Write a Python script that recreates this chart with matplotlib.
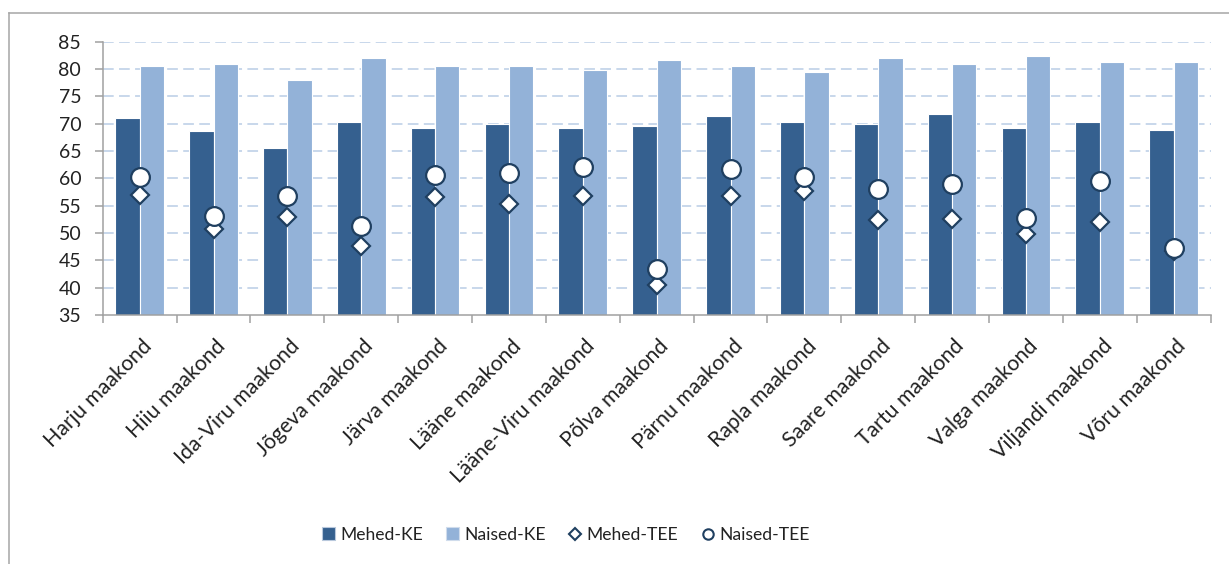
import matplotlib
matplotlib.use("Agg")
import matplotlib.pyplot as plt
import matplotlib.transforms as mtransforms
from matplotlib.lines import Line2D
from matplotlib.patches import Patch
import numpy as np

categories = ["Harju maakond", "Hiiu maakond", "Ida-Viru maakond", "Jõgeva maakond",
              "Järva maakond", "Lääne maakond", "Lääne-Viru maakond", "Põlva maakond",
              "Pärnu maakond", "Rapla maakond", "Saare maakond", "Tartu maakond",
              "Valga maakond", "Viljandi maakond", "Võru maakond"]
mehed_ke = [71.1, 68.6, 65.6, 70.4, 69.3, 70.0, 69.3, 69.6, 71.5, 70.4, 70.0, 71.8, 69.3, 70.4, 68.9]
naised_ke = [80.6, 81.0, 78.0, 82.1, 80.6, 80.6, 79.9, 81.7, 80.6, 79.5, 82.0, 81.0, 82.4, 81.3, 81.3]
mehed_tee = [57.0, 50.7, 53.0, 47.7, 56.5, 55.3, 56.8, 40.4, 56.7, 57.6, 52.3, 52.5, 49.9, 52.1, 46.8]
naised_tee = [60.2, 53.2, 56.7, 51.3, 60.7, 60.9, 62.0, 43.4, 61.8, 60.3, 58.0, 59.0, 52.8, 59.5, 47.3]
yticks = [35, 40, 45, 50, 55, 60, 65, 70, 75, 80, 85]

c_dark = "#35608F"
c_light = "#93B2D8"
c_mark = "#1F3F60"
c_grid = "#B9CDE5"
c_axis = "#A0A0A0"
c_text = "#222222"

plt.rcParams['font.family'] = ['Lato', 'DejaVu Sans']

fig = plt.figure(figsize=(12.29, 5.64), dpi=100)
ax = fig.add_axes([0.0836, 0.4415, 0.985 - 0.0836, 0.926 - 0.4415])

x = np.arange(len(categories))
w = 0.33
ax.bar(x - 0.165, mehed_ke, width=w, color=c_dark, edgecolor="white", linewidth=0.8, zorder=2)
ax.bar(x + 0.165, naised_ke, width=w, color=c_light, edgecolor="white", linewidth=0.8, zorder=2)
ax.plot(x, mehed_tee, linestyle="none", marker="D", markersize=9.5, markerfacecolor="white",
        markeredgecolor=c_mark, markeredgewidth=1.6, zorder=3)
ax.plot(x, naised_tee, linestyle="none", marker="o", markersize=13.5, markerfacecolor="white",
        markeredgecolor=c_mark, markeredgewidth=1.6, zorder=4)

ax.set_ylim(35, 85)
ax.set_xlim(-0.5, len(categories) - 0.5)
ax.set_yticks(yticks)
ax.set_yticklabels([str(v) for v in yticks], fontsize=14, color=c_text)
for v in yticks[1:]:
    ax.axhline(v, color=c_grid, linewidth=1.1, dashes=(7, 3.5), zorder=1)

ax.set_xticks(x)
ax.set_xticklabels(categories, rotation=45, ha="right", va="top", rotation_mode="anchor",
                   fontsize=15.3, color=c_text)
ax.set_xticks(np.arange(-0.5, len(categories), 1.0), minor=True)
ax.tick_params(axis="x", which="major", length=0, pad=15)
ax.tick_params(axis="x", which="minor", length=5.5, width=1.1, color=c_axis, direction="out")
ax.tick_params(axis="y", length=5.5, width=1.1, color=c_axis, pad=10)
offset = mtransforms.ScaledTranslation(2 / 100, 0, fig.dpi_scale_trans)
for lab in ax.get_xticklabels():
    lab.set_transform(lab.get_transform() + offset)

for s in ["top", "right"]:
    ax.spines[s].set_visible(False)
for s in ["left", "bottom"]:
    ax.spines[s].set_color(c_axis)
    ax.spines[s].set_linewidth(1.1)

# chart area border
fig.add_artist(Line2D([9 / 1229, 1.0], [1 - 13 / 564, 1 - 13 / 564], transform=fig.transFigure,
                      color="#A6A6A6", linewidth=1.1))
fig.add_artist(Line2D([9 / 1229, 9 / 1229], [0, 1 - 13 / 564], transform=fig.transFigure,
                      color="#A6A6A6", linewidth=1.1))

handles = [
    Patch(facecolor=c_dark, edgecolor="#B8C8DC", linewidth=0.8, label="Mehed-KE"),
    Patch(facecolor=c_light, edgecolor="#D0DCEC", linewidth=0.8, label="Naised-KE"),
    Line2D([], [], linestyle="none", marker="D", markersize=6.5, markerfacecolor="white",
           markeredgecolor=c_mark, markeredgewidth=1.5, label="Mehed-TEE"),
    Line2D([], [], linestyle="none", marker="o", markersize=7.5, markerfacecolor="white",
           markeredgecolor=c_mark, markeredgewidth=1.5, label="Naised-TEE"),
]
fig.legend(handles=handles, loc="center", bbox_to_anchor=(566 / 1229, 1 - 535 / 564), ncol=4,
           frameon=False, fontsize=12.6, handlelength=0.75, handleheight=0.75, handletextpad=0.3,
           columnspacing=1.3, labelcolor=c_text)

fig.savefig("out.png", dpi=100)
